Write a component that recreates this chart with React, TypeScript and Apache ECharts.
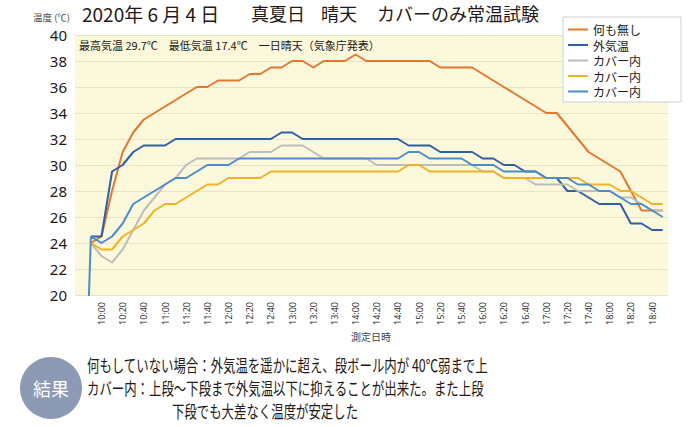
import React, { useEffect, useRef } from 'react';
import * as echarts from 'echarts';

const times = [
  '9:40', '9:50',
  '10:00', '10:10', '10:20', '10:30', '10:40', '10:50',
  '11:00', '11:10', '11:20', '11:30', '11:40', '11:50',
  '12:00', '12:10', '12:20', '12:30', '12:40', '12:50',
  '13:00', '13:10', '13:20', '13:30', '13:40', '13:50',
  '14:00', '14:10', '14:20', '14:30', '14:40', '14:50',
  '15:00', '15:10', '15:20', '15:30', '15:40', '15:50',
  '16:00', '16:10', '16:20', '16:30', '16:40', '16:50',
  '17:00', '17:10', '17:20', '17:30', '17:40', '17:50',
  '18:00', '18:10', '18:20', '18:30', '18:40', '18:50',
];

const nothing = [
  null, 24, 24.5, 28, 31, 32.5, 33.5, 34, 34.5, 35,
  35.5, 36, 36, 36.5, 36.5, 36.5, 37, 37, 37.5, 37.5,
  38, 38, 37.5, 38, 38, 38, 38.5, 38, 38, 38,
  38, 38, 38, 38, 37.5, 37.5, 37.5, 37.5, 37, 36.5,
  36, 35.5, 35, 34.5, 34, 34, 33, 32, 31, 30.5,
  30, 29.5, 28, 26.5, 26.5, 26.5,
];

const outside = [
  null, 24.5, 24.5, 29.5, 30, 31, 31.5, 31.5, 31.5, 32,
  32, 32, 32, 32, 32, 32, 32, 32, 32, 32.5,
  32.5, 32, 32, 32, 32, 32, 32, 32, 32, 32,
  32, 31.5, 31.5, 31.5, 31, 31, 31, 31, 30.5, 30.5,
  30, 30, 29.5, 29.5, 29, 29, 28, 28, 27.5, 27,
  27, 27, 25.5, 25.5, 25, 25,
];

const coverGray = [
  null, 24, 23, 22.5, 23.5, 25, 26.5, 27.5, 28.5, 29,
  30, 30.5, 30.5, 30.5, 30.5, 30.5, 31, 31, 31, 31.5,
  31.5, 31.5, 31, 30.5, 30.5, 30.5, 30.5, 30.5, 30, 30,
  30, 30, 30, 30, 30, 30, 30, 30, 29.5, 29.5,
  29, 29, 29, 28.5, 28.5, 28.5, 28.5, 28, 28, 28,
  28, 27.5, 27.5, 27, 26.5, 26.5,
];

const coverYellow = [
  null, 24, 23.5, 23.5, 24.5, 25, 25.5, 26.5, 27, 27,
  27.5, 28, 28.5, 28.5, 29, 29, 29, 29, 29.5, 29.5,
  29.5, 29.5, 29.5, 29.5, 29.5, 29.5, 29.5, 29.5, 29.5, 29.5,
  29.5, 30, 30, 29.5, 29.5, 29.5, 29.5, 29.5, 29.5, 29.5,
  29, 29, 29, 29, 29, 29, 29, 29, 28.5, 28.5,
  28.5, 28, 28, 27.5, 27, 27,
];

const coverBlue = [
  0, 24.5, 24, 24.5, 25.5, 27, 27.5, 28, 28.5, 29,
  29, 29.5, 30, 30, 30, 30.5, 30.5, 30.5, 30.5, 30.5,
  30.5, 30.5, 30.5, 30.5, 30.5, 30.5, 30.5, 30.5, 30.5, 30.5,
  30.5, 31, 31, 30.5, 30.5, 30.5, 30.5, 30, 30, 30,
  29.5, 29.5, 29.5, 29.5, 29, 29, 29, 28.5, 28.5, 28,
  28, 27.5, 27, 27, 26.5, 26,
];

const seriesNames = ['何も無し', '外気温', 'カバー内1', 'カバー内2', 'カバー内3'];
const seriesData = [nothing, outside, coverGray, coverYellow, coverBlue];
const colors = ['#e3782f', '#2f5fa7', '#bdbdbd', '#f0b323', '#4a8ccc'];

const titleParts = [
  { text: '2020年 6 月 4 日', x: 82, size: 19 },
  { text: '真夏日', x: 251, size: 18 },
  { text: '晴天', x: 321, size: 18 },
  { text: 'カバーのみ常温試験', x: 377, size: 18 },
];
const infoText = '最高気温 29.7℃　最低気温 17.4℃　一日晴天（気象庁発表）';
const resultLines = [
  { text: '何もしていない場合：外気温を遥かに超え、段ボール内が 40℃弱まで上', x: 87, y: 365 },
  { text: 'カバー内：上段～下段まで外気温以下に抑えることが出来た。また上段', x: 87, y: 388 },
  { text: '下段でも大差なく温度が安定した', x: 172, y: 411 },
];

const JP = '"Noto Sans CJK JP", "Noto Sans", sans-serif';
const INK = '#231815';

export default function App() {
  const ref = useRef<HTMLDivElement>(null);
  useEffect(() => {
    if (!ref.current) return;
    const chart = echarts.init(ref.current, null, { renderer: 'svg' });
    const txt = (text: string, x: number, y: number, size: number, fill: string, align = 'left', extra: any = {}) => ({
      type: 'text',
      x,
      y,
      z: 10,
      ...extra,
      style: {
        text,
        fill,
        fontSize: size,
        fontFamily: JP,
        align,
        textAlign: align,
        verticalAlign: 'middle',
        textVerticalAlign: 'middle',
      },
    });
    chart.setOption({
      animation: false,
      backgroundColor: '#ffffff',
      color: colors,
      textStyle: { fontFamily: JP },
      grid: {
        left: 75,
        right: 32,
        top: 35,
        bottom: 132,
        show: true,
        backgroundColor: '#fcf8dc',
        borderWidth: 0,
      },
      legend: {
        orient: 'vertical',
        left: 568,
        top: 22,
        padding: 0,
        itemWidth: 20,
        itemHeight: 2,
        itemGap: 0.5,
        icon: 'rect',
        data: seriesNames,
        formatter: (n: string) => n.replace(/[0-9]$/, ''),
        textStyle: { fontSize: 12, color: INK, fontFamily: JP, lineHeight: 15 },
        z: 12,
      },
      xAxis: {
        type: 'category',
        data: times,
        boundaryGap: true,
        axisLine: { show: false },
        axisTick: { show: false },
        splitLine: { show: false },
        axisLabel: {
          interval: (i: number) => i % 2 === 0 && i >= 2 && i <= 54,
          rotate: 90,
          fontSize: 9,
          color: '#333333',
          margin: 7,
          fontFamily: '"Noto Sans", sans-serif',
        },
      },
      yAxis: {
        type: 'value',
        min: 20,
        max: 40,
        interval: 2,
        axisLine: { show: false },
        axisTick: { show: false },
        axisLabel: { fontSize: 15, color: INK, margin: 8, fontFamily: '"Noto Sans", sans-serif' },
        splitLine: { lineStyle: { color: '#e8e3c4', width: 1 } },
      },
      series: seriesNames.map((name, k) => ({
        name,
        type: 'line',
        data: seriesData[k],
        showSymbol: false,
        symbol: 'none',
        connectNulls: false,
        clip: true,
        lineStyle: { width: 2, color: colors[k] },
        itemStyle: { color: colors[k] },
      })),
      graphic: [
        {
          type: 'rect',
          z: 11,
          shape: { x: 563, y: 17, width: 118, height: 85 },
          style: { fill: '#ffffff', stroke: '#cfcfcf', lineWidth: 1 },
        },
        txt('温度 (℃)', 33, 17, 9.5, '#444444'),
        ...titleParts.map((p) => txt(p.text, p.x, 13, p.size, INK)),
        txt(infoText, 79, 45, 11, INK),
        txt('測定日時', 371, 336, 10, '#444444', 'center'),
        {
          type: 'circle',
          z: 10,
          shape: { cx: 51, cy: 388, r: 31 },
          style: { fill: '#8d9ab5' },
        },
        txt('結果', 51, 388, 18, '#ffffff', 'center'),
        ...resultLines.map((l) => txt(l.text, l.x, l.y, 17, INK, 'left', { scaleX: 0.73 })),
      ],
    });
    return () => chart.dispose();
  }, []);
  return <div ref={ref} style={{ position: 'fixed', left: 0, top: 0, width: 700, height: 427 }} />;
}
